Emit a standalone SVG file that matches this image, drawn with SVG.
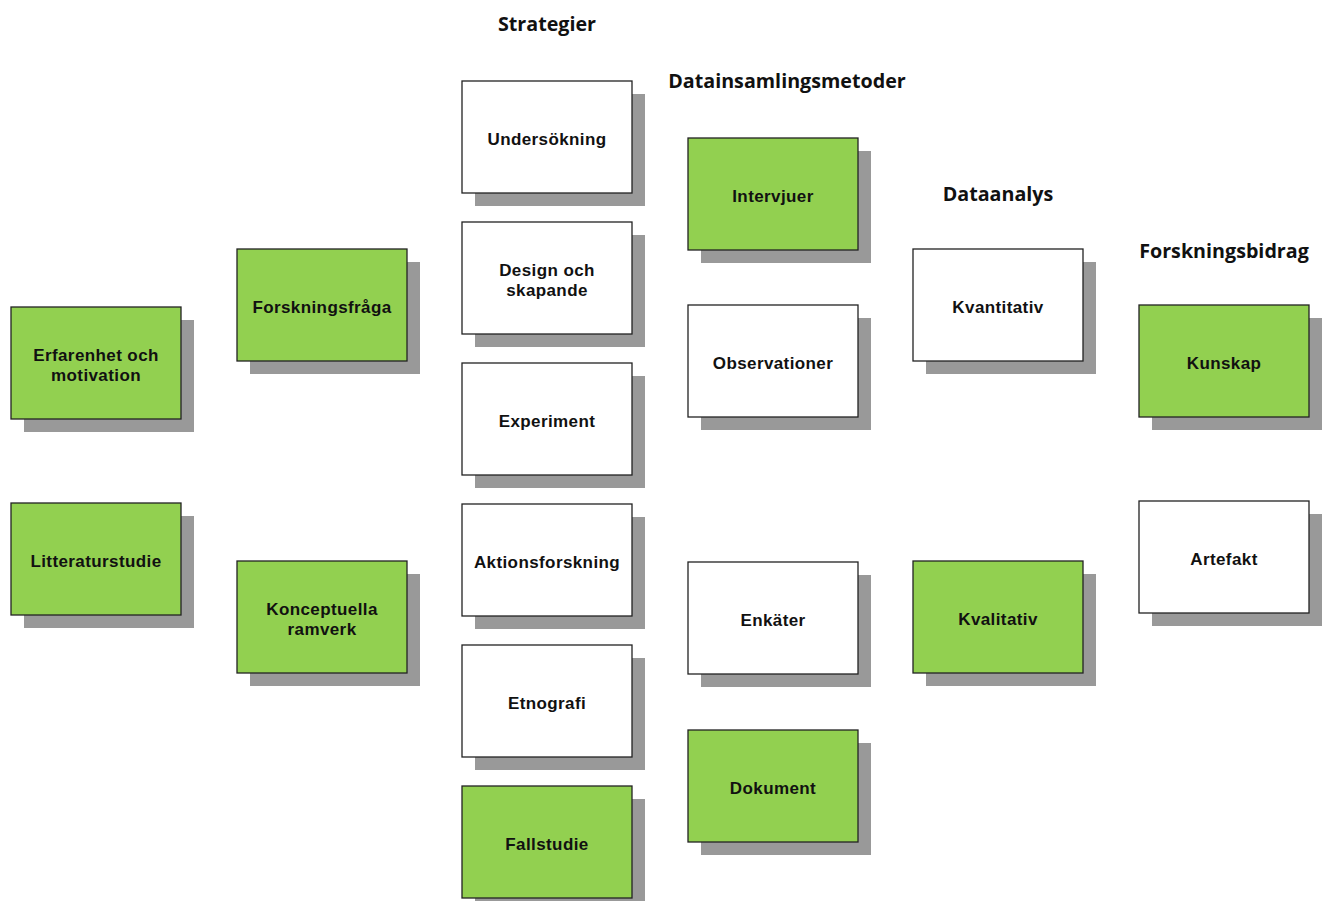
<svg xmlns="http://www.w3.org/2000/svg" width="1327" height="901" viewBox="0 0 1327 901">
<defs>
<style>
.sh{fill:#999999;}
.g{fill:#92d050;stroke:#222;stroke-width:1.3;}
.w{fill:#ffffff;stroke:#222;stroke-width:1.3;}
.t{font-family:"Liberation Sans",Arial,sans-serif;font-weight:bold;font-size:17px;letter-spacing:0.4px;fill:#111;text-anchor:middle;}
.h{font-family:"Open Sans","Noto Sans",sans-serif;font-weight:bold;font-size:19.7px;fill:#111;text-anchor:middle;}
</style>
</defs>
<rect width="1327" height="901" fill="#ffffff"/>
<g id="headers">
<text class="h" x="547" y="31">Strategier</text>
<text class="h" x="787" y="88">Datainsamlingsmetoder</text>
<text class="h" x="998" y="201">Dataanalys</text>
<text class="h" x="1224" y="258">Forskningsbidrag</text>
</g>
<g id="n-erfarenhet"><rect class="sh" x="24" y="320" width="170" height="112"/><rect class="g" x="11" y="307" width="170" height="112"/><text class="t" x="96" y="361">Erfarenhet och</text><text class="t" x="96" y="381">motivation</text></g>
<g id="n-litteraturstudie"><rect class="sh" x="24" y="516" width="170" height="112"/><rect class="g" x="11" y="503" width="170" height="112"/><text class="t" x="96" y="567">Litteraturstudie</text></g>
<g id="n-forskningsfraga"><rect class="sh" x="250" y="262" width="170" height="112"/><rect class="g" x="237" y="249" width="170" height="112"/><text class="t" x="322" y="313">Forskningsfråga</text></g>
<g id="n-konceptuella"><rect class="sh" x="250" y="574" width="170" height="112"/><rect class="g" x="237" y="561" width="170" height="112"/><text class="t" x="322" y="615">Konceptuella</text><text class="t" x="322" y="635">ramverk</text></g>
<g id="n-undersokning"><rect class="sh" x="475" y="94" width="170" height="112"/><rect class="w" x="462" y="81" width="170" height="112"/><text class="t" x="547" y="145">Undersökning</text></g>
<g id="n-design"><rect class="sh" x="475" y="235" width="170" height="112"/><rect class="w" x="462" y="222" width="170" height="112"/><text class="t" x="547" y="276">Design och</text><text class="t" x="547" y="296">skapande</text></g>
<g id="n-experiment"><rect class="sh" x="475" y="376" width="170" height="112"/><rect class="w" x="462" y="363" width="170" height="112"/><text class="t" x="547" y="427">Experiment</text></g>
<g id="n-aktionsforskning"><rect class="sh" x="475" y="517" width="170" height="112"/><rect class="w" x="462" y="504" width="170" height="112"/><text class="t" x="547" y="568">Aktionsforskning</text></g>
<g id="n-etnografi"><rect class="sh" x="475" y="658" width="170" height="112"/><rect class="w" x="462" y="645" width="170" height="112"/><text class="t" x="547" y="709">Etnografi</text></g>
<g id="n-fallstudie"><rect class="sh" x="475" y="799" width="170" height="112"/><rect class="g" x="462" y="786" width="170" height="112"/><text class="t" x="547" y="850">Fallstudie</text></g>
<g id="n-intervjuer"><rect class="sh" x="701" y="151" width="170" height="112"/><rect class="g" x="688" y="138" width="170" height="112"/><text class="t" x="773" y="202">Intervjuer</text></g>
<g id="n-observationer"><rect class="sh" x="701" y="318" width="170" height="112"/><rect class="w" x="688" y="305" width="170" height="112"/><text class="t" x="773" y="369">Observationer</text></g>
<g id="n-enkater"><rect class="sh" x="701" y="575" width="170" height="112"/><rect class="w" x="688" y="562" width="170" height="112"/><text class="t" x="773" y="626">Enkäter</text></g>
<g id="n-dokument"><rect class="sh" x="701" y="743" width="170" height="112"/><rect class="g" x="688" y="730" width="170" height="112"/><text class="t" x="773" y="794">Dokument</text></g>
<g id="n-kvantitativ"><rect class="sh" x="926" y="262" width="170" height="112"/><rect class="w" x="913" y="249" width="170" height="112"/><text class="t" x="998" y="313">Kvantitativ</text></g>
<g id="n-kvalitativ"><rect class="sh" x="926" y="574" width="170" height="112"/><rect class="g" x="913" y="561" width="170" height="112"/><text class="t" x="998" y="625">Kvalitativ</text></g>
<g id="n-kunskap"><rect class="sh" x="1152" y="318" width="170" height="112"/><rect class="g" x="1139" y="305" width="170" height="112"/><text class="t" x="1224" y="369">Kunskap</text></g>
<g id="n-artefakt"><rect class="sh" x="1152" y="514" width="170" height="112"/><rect class="w" x="1139" y="501" width="170" height="112"/><text class="t" x="1224" y="565">Artefakt</text></g>
<g id="connectors"></g>
</svg>
